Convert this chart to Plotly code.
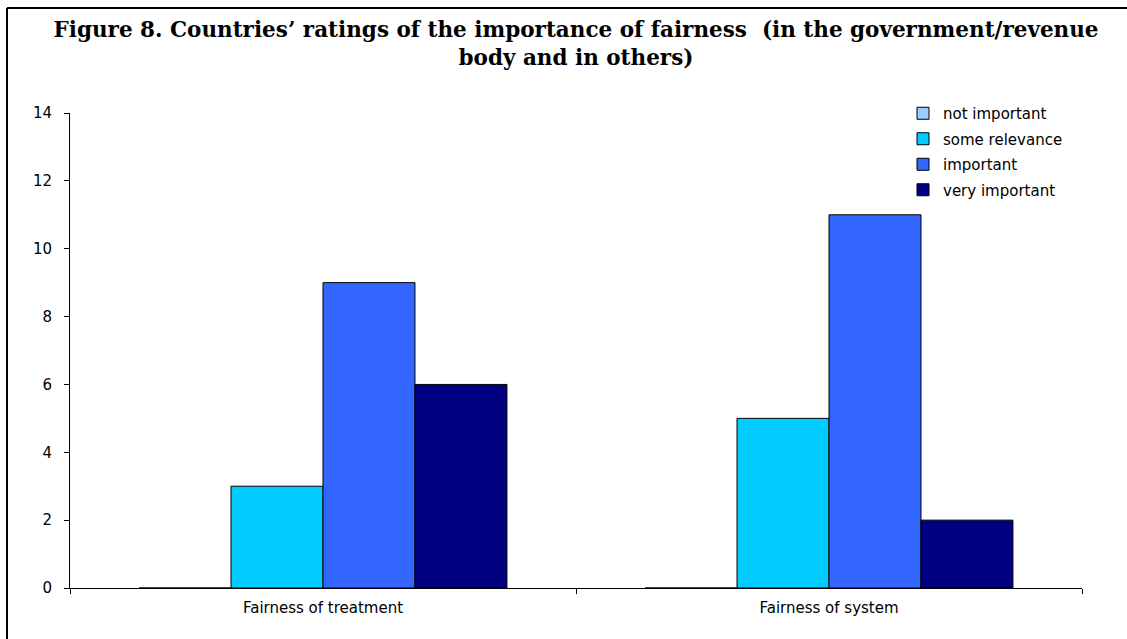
import plotly.graph_objects as go

# Survey counts per category and rating level
categories = ["Fairness of treatment", "Fairness of system"]
not_important = [0, 0]
some_relevance = [3, 5]
important = [9, 11]
very_important = [6, 2]

series = [
    ("not important", not_important, "#99CCFF"),
    ("some relevance", some_relevance, "#00CCFF"),
    ("important", important, "#3366FF"),
    ("very important", very_important, "#000080"),
]

title_text = ("Figure 8. Countries\u2019 ratings of the importance of fairness  "
              "(in the government/revenue<br>body and in others)")

SANS = "DejaVu Sans, Arial, sans-serif"

fig = go.Figure()
for name, vals, color in series:
    fig.add_trace(go.Bar(
        name=name, x=categories, y=vals, legendgroup=name,
        marker=dict(color=color, line=dict(color="#000000", width=1)),
    ))

W, H = 1127, 639
L, R, T, B = 70, 45, 113, 51
pw, ph = W - L - R, H - T - B

def px_x(x):
    return (x - L) / pw

def px_y(y):
    return (H - B - y) / ph

fig.update_layout(
    width=W, height=H,
    margin=dict(l=L, r=R, t=T, b=B),
    paper_bgcolor="white", plot_bgcolor="white",
    barmode="group", bargap=0.273, bargroupgap=0,
    font=dict(family=SANS, size=15, color="#000000"),
    title=dict(
        text=title_text,
        font=dict(family="DejaVu Serif, Georgia, serif", size=21.5, color="#000000", weight="bold"),
        x=0.5, xref="paper", xanchor="center",
        y=1 - 37 / H, yref="container", yanchor="middle",
    ),
    legend=dict(
        x=px_x(903), y=px_y(97), xanchor="left", yanchor="top",
        font=dict(size=15, family=SANS),
        tracegroupgap=3, bgcolor="rgba(0,0,0,0)", itemclick=False,
    ),
    xaxis=dict(
        showline=True, linecolor="#000000", linewidth=1,
        ticks="outside", tickson="boundaries", ticklen=5, tickcolor="#000000",
        showgrid=False, tickfont=dict(size=15), ticklabelstandoff=6,
    ),
    yaxis=dict(
        range=[0, 14], dtick=2, showline=True, linecolor="#000000", linewidth=1,
        ticks="outside", ticklen=5, tickcolor="#000000",
        showgrid=False, zeroline=False, tickfont=dict(size=15), ticklabelstandoff=9,
    ),
    shapes=[
        # frame around the figure (left and top edges)
        dict(type="line", xref="paper", yref="paper",
             x0=px_x(7), x1=px_x(7), y0=px_y(8), y1=px_y(H + 10),
             line=dict(color="#000000", width=2)),
        dict(type="line", xref="paper", yref="paper",
             x0=px_x(7), x1=px_x(W + 10), y0=px_y(8), y1=px_y(8),
             line=dict(color="#000000", width=2)),
    ],
)

fig.write_html("out.html")
